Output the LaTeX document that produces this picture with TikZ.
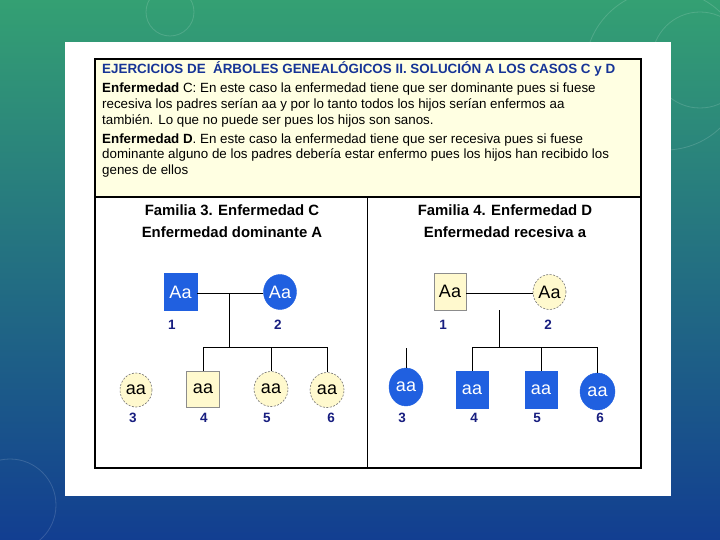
\documentclass[tikz,border=0pt]{standalone}
\usepackage{fontspec}
\setmainfont{Liberation Sans}
\usetikzlibrary{shapes.geometric}
\definecolor{bgtop}{RGB}{52,160,115}
\definecolor{bgmid}{RGB}{30,110,140}
\definecolor{bgbot}{RGB}{18,62,145}
\definecolor{bluefill}{RGB}{32,96,224}
\definecolor{yelfill}{RGB}{255,249,206}
\definecolor{headfill}{RGB}{255,255,226}
\definecolor{navy}{RGB}{24,30,128}
\definecolor{titleblue}{RGB}{22,52,150}
\begin{document}
\begin{tikzpicture}[x=1pt,y=-1pt,
  txt/.style={anchor=west,inner sep=0pt,text height=0.75em,text depth=0.25em,
    font=\fontsize{13.35}{15}\selectfont},
  famtitle/.style={inner sep=0pt,font=\bfseries\fontsize{14.9}{16}\selectfont},
  num/.style={inner sep=0pt,text=navy,font=\bfseries\fontsize{13.5}{15}\selectfont},
  bsq/.style={rectangle,fill=bluefill,draw=bluefill,inner sep=0pt,text=white,
    font=\fontsize{18}{20}\selectfont},
  ysq/.style={rectangle,fill=yelfill,draw=black!45,line width=0.6pt,inner sep=0pt,
    font=\fontsize{18}{20}\selectfont},
  bci/.style={ellipse,fill=bluefill,draw=bluefill,inner sep=0pt,text=white,
    font=\fontsize{18}{20}\selectfont},
  yci/.style={ellipse,fill=yelfill,draw=black!55,line width=0.6pt,
    dash pattern=on 2pt off 1.5pt,inner sep=0pt,font=\fontsize{18}{20}\selectfont},
  link/.style={draw=black,line width=0.9pt}]

\useasboundingbox (0,0) rectangle (720,540);
% background
\shade[top color=bgtop, middle color=bgmid, bottom color=bgbot] (0,0) rectangle (720,540);
\begin{scope}[draw=white,opacity=0.15,line width=0.8pt]
  \draw (170,12) circle (24);
  \draw (10,505) circle (46);
  \draw (665,70) circle (80);
  \draw (700,60) circle (48);
\end{scope}
% white panel
\fill[white] (65,42) rectangle (671,496);
% header cell
\fill[headfill] (95,59) rectangle (641,197);
\draw[line width=1.2pt] (95,197) -- (641,197);
\draw[line width=1pt] (367,197) -- (367,468);
\draw[line width=2pt] (95,59) rectangle (641,468);

% header text
\node[txt,text=titleblue,font=\bfseries\fontsize{13.4}{15}\selectfont] (title) at (102,71)
  {EJERCICIOS DE \ ÁRBOLES GENEALÓGICOS II. SOLUCIÓN A LOS CASOS C y D};
\node[txt] (l1) at (102,90) {\textbf{Enfermedad} C: En este caso la enfermedad tiene que ser dominante pues si fuese};
\node[txt] (l2) at (102,106) {recesiva los padres serían aa y por lo tanto todos los hijos serían enfermos aa};
\node[txt] (l3) at (102,122) {también. Lo que no puede ser pues los hijos son sanos.};
\node[txt] (l4) at (102,141) {\textbf{Enfermedad D}. En este caso la enfermedad tiene que ser recesiva pues si fuese};
\node[txt] (l5) at (102,156) {dominante alguno de los padres debería estar enfermo pues los hijos han recibido los};
\node[txt] (l6) at (102,172) {genes de ellos};

% ---------- Familia 3 ----------
\node[famtitle] (f3a) at (232,210) {Familia 3. Enfermedad C};
\node[famtitle] (f3b) at (232,232) {Enfermedad dominante A};

\node[bsq,minimum width=33pt,minimum height=37pt] (a1) at (180.5,292) {Aa};
\node[bci,minimum width=33pt,minimum height=35pt] (a2) at (280,292) {Aa};
\node[yci,minimum width=32pt,minimum height=34pt] (a3) at (136,390) {aa};
\node[ysq,minimum width=33pt,minimum height=36pt] (a4) at (203,389) {aa};
\node[yci,minimum width=34pt,minimum height=35pt] (a5) at (271,389) {aa};
\node[yci,minimum width=34pt,minimum height=35pt] (a6) at (327,390) {aa};

\node[num] (na1) at (172,325) {1};
\node[num] (na2) at (278,325) {2};
\node[num] (na3) at (133,418) {3};
\node[num] (na4) at (204,418) {4};
\node[num] (na5) at (267,418) {5};
\node[num] (na6) at (331,418) {6};

\coordinate (am) at (229,293);
\coordinate (as) at (229,347);
\draw[link] (a1.east |- am) -- (a2.west |- am);
\draw[link] (am) -- (as);
\draw[link] (a4.north |- as) -- (a6.north |- as);
\draw[link] (a4.north |- as) -- (a4.north);
\draw[link] (a5.north |- as) -- (a5.north);
\draw[link] (a6.north |- as) -- (a6.north);

% ---------- Familia 4 ----------
\node[famtitle] (f4a) at (505,210) {Familia 4. Enfermedad D};
\node[famtitle] (f4b) at (505,232) {Enfermedad recesiva a};

\node[ysq,minimum width=32pt,minimum height=37pt] (b1) at (450,291.5) {Aa};
\node[yci,minimum width=33pt,minimum height=35pt] (b2) at (549.5,292) {Aa};
\node[bci,minimum width=34pt,minimum height=38pt] (b3) at (406,387) {aa};
\node[bsq,minimum width=32pt,minimum height=37pt] (b4) at (472,389.5) {aa};
\node[bsq,minimum width=32pt,minimum height=37pt] (b5) at (541,389.5) {aa};
\node[bci,minimum width=35pt,minimum height=37pt] (b6) at (597.5,391.5) {aa};

\node[num] (nb1) at (443,325) {1};
\node[num] (nb2) at (548,325) {2};
\node[num] (nb3) at (402,418) {3};
\node[num] (nb4) at (474,418) {4};
\node[num] (nb5) at (537,418) {5};
\node[num] (nb6) at (600,418) {6};

\coordinate (bm) at (499,293);
\coordinate (bt) at (499,310);
\coordinate (bs) at (499,347);
\coordinate (b3t) at (406,348);
\draw[link] (b1.east |- bm) -- (b2.west |- bm);
\draw[link] (bt) -- (bs);
\draw[link] (b4.north |- bs) -- (b6.north |- bs);
\draw[link] (b4.north |- bs) -- (b4.north);
\draw[link] (b5.north |- bs) -- (b5.north);
\draw[link] (b6.north |- bs) -- (b6.north);
\draw[link] (b3t) -- (b3.north);
\end{tikzpicture}
\end{document}
